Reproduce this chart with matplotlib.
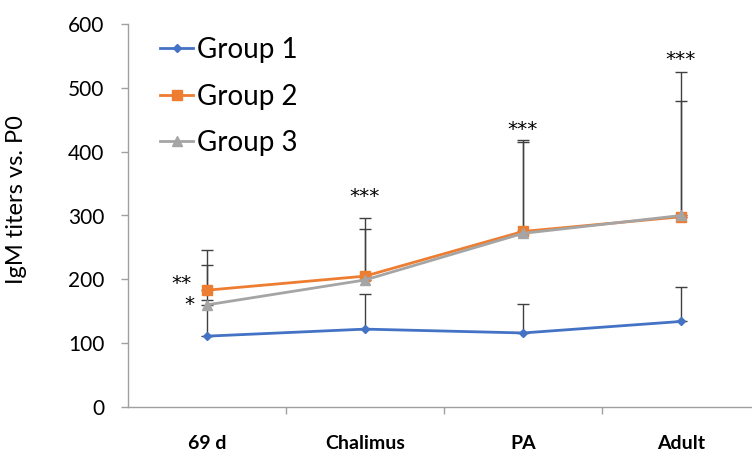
import matplotlib
matplotlib.use("Agg")
import matplotlib.pyplot as plt
import numpy as np

categories = ["69 d", "Chalimus", "PA", "Adult"]
group1 = [111, 122, 116, 134]
group1_err = [57, 55, 45, 54]
group2 = [183, 205, 275, 298]
group2_err = [63, 91, 143, 227]
group3 = [160, 199, 272, 300]
group3_err = [62, 80, 143, 180]
series_names = ["Group 1", "Group 2", "Group 3"]
stars = ["**", "***", "***", "***"]
star_y = [193, 329, 434, 544]
star3_69d = "*"
star3_69d_y = 160

plt.rcParams['font.family'] = ['Lato', 'DejaVu Sans']

W, H = 752, 453
fig = plt.figure(figsize=(W/100, H/100), dpi=100)
ax = fig.add_axes([128/W, 1-407/H, 632/W, 383/H])

x = np.arange(len(categories))
ecol = '#404040'
specs = [
    (group1, group1_err, '#4472C4', 'D', 4.5),
    (group2, group2_err, '#ED7D31', 's', 6.5),
    (group3, group3_err, '#A5A5A5', '^', 7),
]
handles = []
for (vals, err, col, mk, ms), name in zip(specs, series_names):
    ax.errorbar(x, vals, yerr=[np.zeros(len(err)), err], fmt='none', ecolor=ecol,
                elinewidth=1.0, capsize=4.5, capthick=1.0, zorder=2)
for (vals, err, col, mk, ms), name in zip(specs, series_names):
    h, = ax.plot(x, vals, color=col, marker=mk, markersize=ms, lw=2.0, label=name, zorder=3)
    handles.append(h)

# significance stars
sfont = dict(ha='center', va='center', fontsize=14.5, family='DejaVu Sans')
ax.text(x[0] - 25/158, star_y[0], stars[0], **sfont)
ax.text(x[0] - 18/158, star3_69d_y, star3_69d, **sfont)
for i in range(1, 4):
    ax.text(x[i], star_y[i], stars[i], **sfont)

ax.set_xlim(-0.5, 3.5)
ax.set_ylim(0, 600)
ax.set_yticks(np.arange(0, 601, 100))
ax.set_xticks(x)
ax.set_xticklabels(categories, fontweight='bold', fontsize=14)
ax.set_xticks(x[:-1] + 0.5, minor=True)
ax.tick_params(axis='x', which='major', length=0, pad=20)
ax.tick_params(axis='x', which='minor', length=5, color='#A0A0A0', width=1)
ax.tick_params(axis='y', length=5, color='#A0A0A0', width=1, labelsize=15, pad=12)
for s in ['top', 'right']:
    ax.spines[s].set_visible(False)
for s in ['left', 'bottom']:
    ax.spines[s].set_color('#A0A0A0')
    ax.spines[s].set_linewidth(1)
ax.set_ylabel("IgM titers vs. P0", fontsize=17)
ax.yaxis.set_label_coords((27-128)/632, (407-200)/383)

leg = ax.legend(handles=handles, loc='upper left', bbox_to_anchor=(160/W, 1-37/H),
                bbox_transform=fig.transFigure, frameon=False, fontsize=20,
                handlelength=1.2, handletextpad=0.12, labelspacing=0.74, borderpad=0,
                borderaxespad=0)

fig.savefig("out.png", dpi=100)
